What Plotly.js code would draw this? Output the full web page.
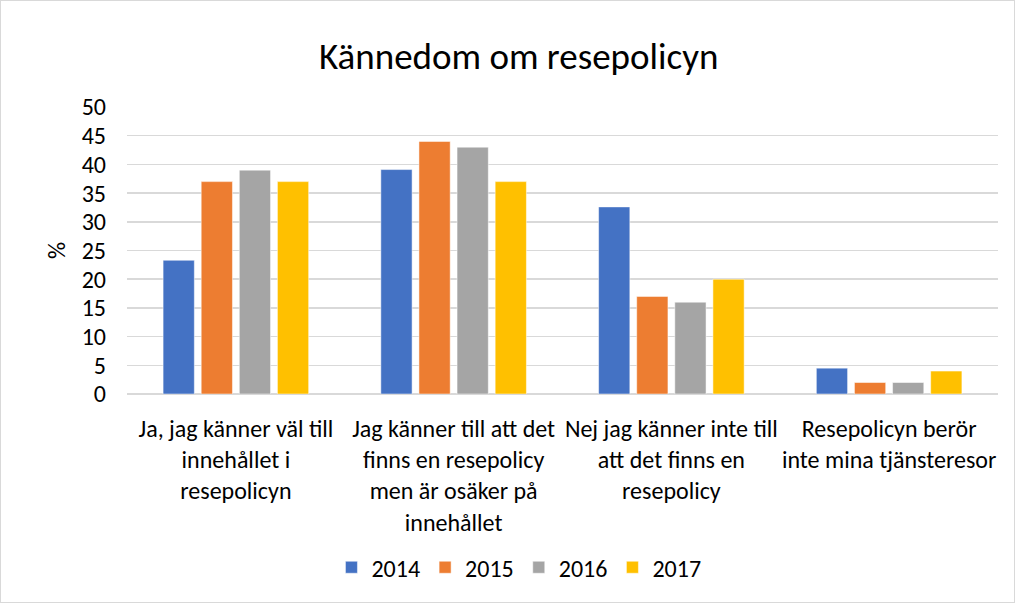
<!DOCTYPE html>
<html>
<head>
<meta charset="utf-8">
<script src="https://cdn.plot.ly/plotly-3.0.1.min.js"></script>
<style>
html,body{margin:0;padding:0;background:#fff;}
#chart{width:1015px;height:603px;box-sizing:border-box;border:1px solid #d9d9d9;}
</style>
</head>
<body>
<div id="chart"></div>
<script>
const categories = [
  "Ja, jag känner väl till<br>innehållet i<br>resepolicyn",
  "Jag känner till att det<br>finns en resepolicy<br>men är osäker på<br>innehållet",
  "Nej jag känner inte till<br>att det finns en<br>resepolicy",
  "Resepolicyn berör<br>inte mina tjänsteresor"
];
const years = ["2014", "2015", "2016", "2017"];
const v2014 = [23.3, 39.1, 32.6, 4.5];
const v2015 = [37, 44, 17, 2];
const v2016 = [39, 43, 16, 2];
const v2017 = [37, 37, 20, 4];
const seriesValues = [v2014, v2015, v2016, v2017];
const colors = ["#4472c4", "#ed7d31", "#a5a5a5", "#ffc000"];
const yTicks = [0, 5, 10, 15, 20, 25, 30, 35, 40, 45, 50];

const FONT = "Carlito, Calibri, 'Liberation Sans Narrow', 'Open Sans', sans-serif";

const traces = years.map((y, i) => ({
  type: "bar",
  name: y,
  x: categories,
  y: seriesValues[i],
  marker: {color: colors[i], line: {color: "#ffffff", width: 0.5}},
  hoverinfo: "x+y"
}));

const layout = {
  width: 1013, height: 601,
  paper_bgcolor: "#ffffff",
  plot_bgcolor: "#ffffff",
  font: {family: FONT, color: "#000000", size: 24},
  title: {text: "Kännedom om resepolicyn", font: {family: FONT, size: 37, color: "#000"}, x: 0.511, xanchor: "center", y: 0.908, yanchor: "middle"},
  margin: {l: 126, r: 16, t: 106, b: 205},
  barmode: "group",
  bargap: 0.30,
  bargroupgap: 0.18,
  xaxis: {
    type: "category",
    tickfont: {family: FONT, size: 24, color: "#000"},
    showgrid: false, showline: false, ticks: "",
    zeroline: false, fixedrange: true,
    ticklabelstandoff: 18
  },
  yaxis: {
    range: [0, 50],
    tickvals: yTicks,
    ticktext: yTicks.map(String),
    tickfont: {family: FONT, size: 24, color: "#000"},
    showgrid: true, gridcolor: "#d9d9d9", gridwidth: 1.5,
    zeroline: true, zerolinecolor: "#d9d9d9", zerolinewidth: 1.5,
    showline: false, ticks: "",
    ticklabelstandoff: 20,
    title: {text: "%", font: {family: FONT, size: 24, color: "#000"}, standoff: 9}
  },
  legend: {
    orientation: "h", x: 0.45, xanchor: "center", y: -0.605, yanchor: "middle",
    font: {family: FONT, size: 24, color: "#000"},
    traceorder: "normal", itemwidth: 30
  },
  showlegend: true
};

Plotly.newPlot("chart", traces, layout, {displayModeBar: false, staticPlot: true});
</script>
</body>
</html>
